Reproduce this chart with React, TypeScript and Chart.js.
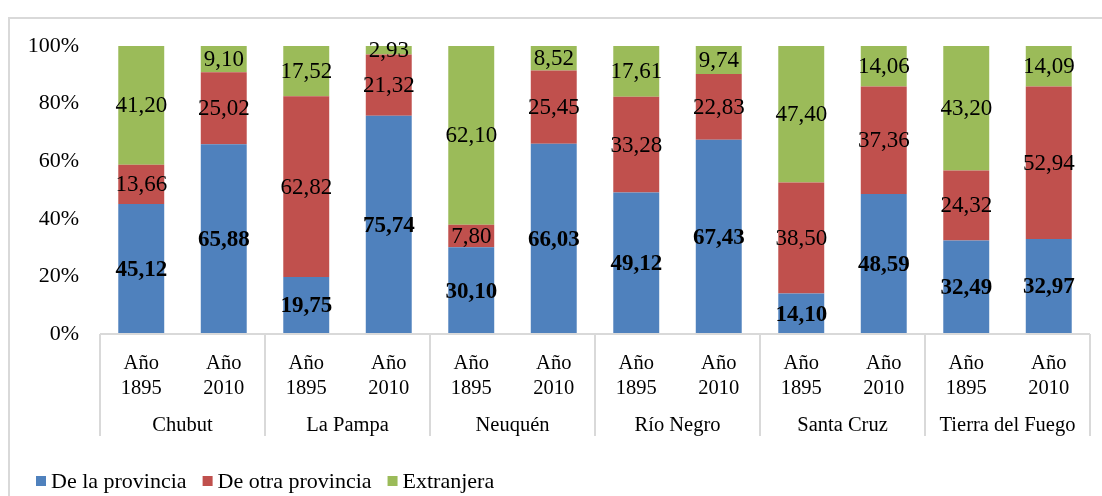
import React, { useEffect, useRef } from "react";
import { Chart, registerables } from "chart.js";

Chart.register(...registerables);

const groups = ["Chubut", "La Pampa", "Neuquén", "Río Negro", "Santa Cruz", "Tierra del Fuego"];
const yearLabels = [["Año", "1895"], ["Año", "2010"]];
const categories = groups.flatMap((g) => yearLabels.map((y) => `${g} ${y.join(" ")}`));

const seriesNames = ["De la provincia", "De otra provincia", "Extranjera"];
const seriesColors = ["#4F81BD", "#C0504D", "#9BBB59"];

const deLaProvincia = [45.12, 65.88, 19.75, 75.74, 30.1, 66.03, 49.12, 67.43, 14.1, 48.59, 32.49, 32.97];
const deOtraProvincia = [13.66, 25.02, 62.82, 21.32, 7.8, 25.45, 33.28, 22.83, 38.5, 37.36, 24.32, 52.94];
const extranjera = [41.2, 9.1, 17.52, 2.93, 62.1, 8.52, 17.61, 9.74, 47.4, 14.06, 43.2, 14.09];

const yTickValues = [0, 20, 40, 60, 80, 100];

const SERIF = '"Liberation Serif", "Times New Roman", serif';
const GRID = "#d9d9d9";

const fmt = (v: number) => v.toFixed(2).replace(".", ",");

const customPlugin = {
  id: "custom",
  beforeDraw(chart: any) {
    const ctx = chart.ctx;
    ctx.save();
    ctx.strokeStyle = GRID;
    ctx.lineWidth = 2;
    ctx.beginPath();
    ctx.moveTo(9, 496);
    ctx.lineTo(9, 18);
    ctx.lineTo(1102, 18);
    ctx.stroke();
    ctx.restore();
  },
  afterDatasetsDraw(chart: any) {
    const ctx = chart.ctx;
    ctx.save();
    ctx.fillStyle = "#000";
    ctx.textAlign = "center";
    ctx.textBaseline = "middle";
    chart.data.datasets.forEach((ds: any, di: number) => {
      const meta = chart.getDatasetMeta(di);
      ctx.font = (di === 0 ? "bold " : "") + "23px " + SERIF;
      meta.data.forEach((el: any, i: number) => {
        const y = (el.y + el.base) / 2;
        ctx.fillText(fmt(ds.data[i]), el.x, y + 1);
      });
    });
    ctx.restore();
  },
  afterDraw(chart: any) {
    const ctx = chart.ctx;
    const area = chart.chartArea;
    const xs = chart.scales.x;
    const n = categories.length;
    const step = (area.right - area.left) / n;
    ctx.save();
    ctx.strokeStyle = GRID;
    ctx.lineWidth = 2;
    ctx.beginPath();
    ctx.moveTo(area.left, area.bottom);
    ctx.lineTo(area.right, area.bottom);
    for (let g = 0; g <= groups.length; g++) {
      const x = g === groups.length ? area.right : xs.getPixelForValue(g * 2) - step / 2;
      ctx.moveTo(x, area.bottom);
      ctx.lineTo(x, 436);
    }
    ctx.stroke();

    ctx.fillStyle = "#000";
    ctx.textAlign = "center";
    ctx.textBaseline = "middle";
    ctx.font = "20.5px " + SERIF;
    for (let i = 0; i < n; i++) {
      const x = xs.getPixelForValue(i);
      const lines = yearLabels[i % 2];
      ctx.fillText(lines[0], x, 364);
      ctx.fillText(lines[1], x, 389);
    }
    for (let g = 0; g < groups.length; g++) {
      const x = (xs.getPixelForValue(g * 2) + xs.getPixelForValue(g * 2 + 1)) / 2;
      ctx.fillText(groups[g], x, 426);
    }

    ctx.font = "22px " + SERIF;
    ctx.textAlign = "left";
    let lx = 36;
    seriesNames.forEach((name, i) => {
      ctx.fillStyle = seriesColors[i];
      ctx.fillRect(lx, 476, 10, 10);
      ctx.fillStyle = "#000";
      ctx.fillText(name, lx + 15, 482);
      lx += 15 + ctx.measureText(name).width + 16;
    });
    ctx.restore();
  },
};

export default function App() {
  const ref = useRef<HTMLCanvasElement | null>(null);
  useEffect(() => {
    if (!ref.current) return;
    const seriesData = [deLaProvincia, deOtraProvincia, extranjera];
    const chart = new Chart(ref.current, {
      type: "bar",
      data: {
        labels: categories,
        datasets: seriesNames.map((name, i) => ({
          label: name,
          data: seriesData[i],
          backgroundColor: seriesColors[i],
          borderWidth: 0,
          barPercentage: 0.557,
          categoryPercentage: 1,
        })),
      },
      options: {
        responsive: false,
        animation: false,
        devicePixelRatio: 1,
        layout: { padding: { left: 0, right: 12, top: 46, bottom: 162 } },
        plugins: { legend: { display: false }, tooltip: { enabled: false } },
        scales: {
          x: { stacked: true, display: false },
          y: {
            stacked: true,
            min: 0,
            max: 100,
            afterFit: (scale: any) => {
              scale.width = 100;
            },
            afterBuildTicks: (scale: any) => {
              scale.ticks = yTickValues.map((v) => ({ value: v }));
            },
            grid: { display: false, drawTicks: false, tickLength: 0 },
            border: { display: false },
            ticks: {
              padding: 21,
              color: "#000",
              font: { family: SERIF, size: 22 },
              callback: (v: any) => v + "%",
            },
          },
        },
      },
      plugins: [customPlugin],
    });
    return () => chart.destroy();
  }, []);
  return (
    <div style={{ position: "absolute", left: 0, top: 0, width: 1102, height: 496, background: "#fff" }}>
      <canvas ref={ref} width={1102} height={496} style={{ width: 1102, height: 496, display: "block" }} />
    </div>
  );
}
